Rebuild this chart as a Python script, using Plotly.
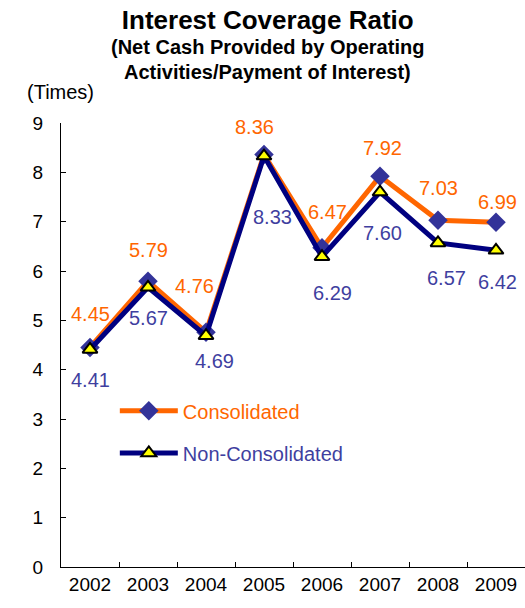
import plotly.graph_objects as go

# Données du graphique
years = ["2002", "2003", "2004", "2005", "2006", "2007", "2008", "2009"]
consolidated = [4.45, 5.79, 4.76, 8.36, 6.47, 7.92, 7.03, 6.99]
non_consolidated = [4.41, 5.67, 4.69, 8.33, 6.29, 7.60, 6.57, 6.42]
y_ticks = [0, 1, 2, 3, 4, 5, 6, 7, 8, 9]

# Décalages des étiquettes (en pixels)
cons_shift = [(0, 33), (0, 31), (-12, 46), (-10, 28), (5, 36), (2, 28), (0, 32), (1, 20)]
non_shift = [(0, -31), (0, -31), (8, -25), (8, -61), (10, -36), (2, -41), (8, -35), (1, -32)]

ORANGE = "#FF6600"
NAVY = "#000080"
LABEL_BLUE = "#3F3F9F"
FONT = "Arial, Liberation Sans, sans-serif"

fig = go.Figure()

fig.add_trace(go.Scatter(
    x=years, y=consolidated, name="Consolidated", mode="lines+markers",
    line=dict(color=ORANGE, width=5),
    marker=dict(symbol="diamond", size=15, color="#333399"),
    legend="legend",
))
fig.add_trace(go.Scatter(
    x=years, y=non_consolidated, name="Non-Consolidated", mode="lines+markers",
    line=dict(color=NAVY, width=5),
    marker=dict(symbol="triangle-up", size=13, color="#FFFF00",
                line=dict(color="black", width=2)),
    legend="legend2",
))

# Étiquettes de valeurs (x = indice de catégorie)
for i, (val, (dx, dy)) in enumerate(zip(consolidated, cons_shift)):
    fig.add_annotation(x=i, y=val, text=f"{val:.2f}", showarrow=False,
                       xshift=dx, yshift=dy, font=dict(color=ORANGE, size=20, family=FONT))
for i, (val, (dx, dy)) in enumerate(zip(non_consolidated, non_shift)):
    fig.add_annotation(x=i, y=val, text=f"{val:.2f}", showarrow=False,
                       xshift=dx, yshift=dy, font=dict(color=LABEL_BLUE, size=20, family=FONT))

# Sous-titre et unité
fig.add_annotation(x=0.446, y=1.171, xref="paper", yref="paper",
                   text="<b>(Net Cash Provided by Operating</b>", showarrow=False,
                   xanchor="center", yanchor="middle",
                   font=dict(color="black", size=20, family=FONT))
fig.add_annotation(x=0.446, y=1.115, xref="paper", yref="paper",
                   text="<b>Activities/Payment of Interest)</b>", showarrow=False,
                   xanchor="center", yanchor="middle",
                   font=dict(color="black", size=20, family=FONT))
fig.add_annotation(x=-0.078, y=1.070, xref="paper", yref="paper", text="(Times)",
                   showarrow=False, xanchor="left", yanchor="middle",
                   font=dict(color="black", size=20, family=FONT))

fig.update_layout(
    width=525, height=608,
    margin=dict(l=61, r=0, t=123, b=41),
    paper_bgcolor="white", plot_bgcolor="white",
    font=dict(family=FONT, color="black"),
    title=dict(
        text="<b>Interest Coverage Ratio</b>",
        x=0.51, xanchor="center", y=0.967, yanchor="middle",
        font=dict(size=26, family=FONT, color="black"),
    ),
    xaxis=dict(
        type="category", range=[-0.5, 7.5], showline=True, linecolor="black", linewidth=1,
        ticks="inside", tickson="boundaries", ticklen=5, tickcolor="black",
        showgrid=False, tickfont=dict(size=19), fixedrange=True,
    ),
    yaxis=dict(
        range=[0, 9], tickvals=y_ticks, showline=True, linecolor="black", linewidth=1,
        ticks="inside", ticklen=5, tickcolor="black", showgrid=False, zeroline=False,
        tickfont=dict(size=19), ticklabelstandoff=13,
    ),
    legend=dict(x=0.116, y=0.352, xanchor="left", yanchor="middle", bgcolor="rgba(0,0,0,0)",
                font=dict(color=ORANGE, size=20, family=FONT), itemwidth=58),
    legend2=dict(x=0.116, y=0.257, xanchor="left", yanchor="middle", bgcolor="rgba(0,0,0,0)",
                 font=dict(color=LABEL_BLUE, size=20, family=FONT), itemwidth=58),
    showlegend=True,
)

fig.write_html("out.html", config={"displayModeBar": False},
               post_script="document.body.style.margin='0';")
